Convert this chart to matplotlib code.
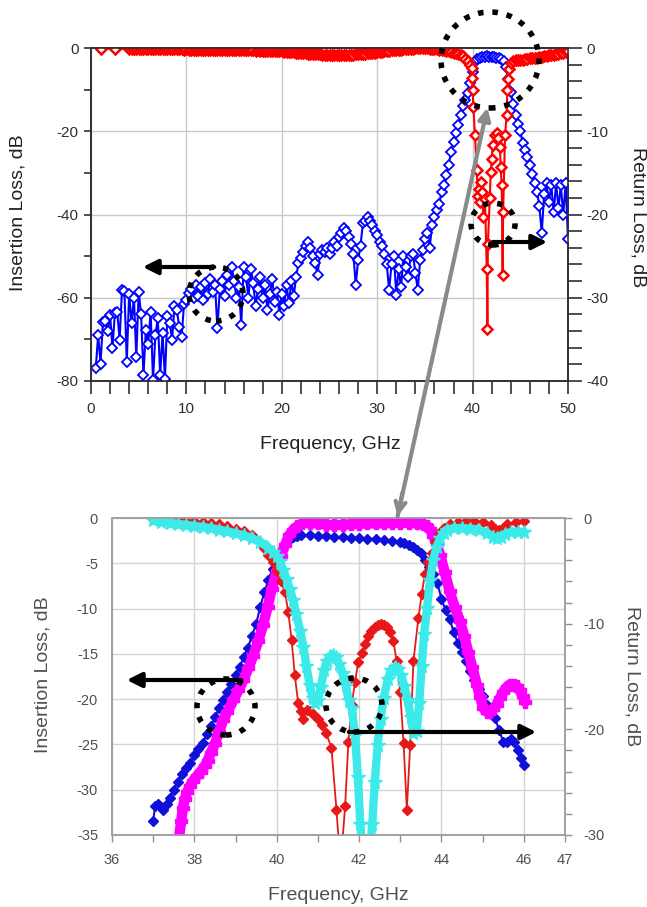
import matplotlib
matplotlib.use("Agg")
import matplotlib.pyplot as plt
from matplotlib.patches import Ellipse, FancyArrowPatch
from matplotlib.ticker import MultipleLocator

plt.rcParams['font.family'] = ['Liberation Sans', 'DejaVu Sans']
plt.rcParams['axes.unicode_minus'] = False

W, H = 647, 907

# ---- top chart: full sweep 0-50 GHz ----
top_freq = [
    0.5, 0.75, 1.0, 1.25, 1.5, 1.75, 2.0, 2.25, 2.5, 2.75, 3.0, 3.25, 3.5, 3.75, 4.0, 4.25,
    4.5, 4.75, 5.0, 5.25, 5.5, 5.75, 6.0, 6.25, 6.5, 6.75, 7.0, 7.25, 7.5, 7.75, 8.0, 8.25,
    8.5, 8.75, 9.0, 9.25, 9.5, 9.75, 10.0, 10.25, 10.5, 10.75, 11.0, 11.25, 11.5, 11.75,
    12.0, 12.25, 12.5, 12.75, 13.0, 13.25, 13.5, 13.75, 14.0, 14.25, 14.5, 14.75, 15.0,
    15.25, 15.5, 15.75, 16.0, 16.25, 16.5, 16.75, 17.0, 17.25, 17.5, 17.75, 18.0, 18.25,
    18.5, 18.75, 19.0, 19.25, 19.5, 19.75, 20.0, 20.25, 20.5, 20.75, 21.0, 21.25, 21.5,
    21.75, 22.0, 22.25, 22.5, 22.75, 23.0, 23.25, 23.5, 23.75, 24.0, 24.25, 24.5, 24.75,
    25.0, 25.25, 25.5, 25.75, 26.0, 26.25, 26.5, 26.75, 27.0, 27.25, 27.5, 27.75, 28.0,
    28.25, 28.5, 28.75, 29.0, 29.25, 29.5, 29.75, 30.0, 30.25, 30.5, 30.75, 31.0, 31.25,
    31.5, 31.75, 32.0, 32.25, 32.5, 32.75, 33.0, 33.25, 33.5, 33.75, 34.0, 34.25, 34.5,
    34.75, 35.0, 35.25, 35.5, 35.75, 36.0, 36.25, 36.5, 36.75, 37.0, 37.25, 37.5, 37.75,
    38.0, 38.25, 38.5, 38.75, 39.0, 39.25, 39.5, 39.75, 40.0, 40.25, 40.5, 40.75, 41.0,
    41.25, 41.5, 41.75, 42.0, 42.25, 42.5, 42.75, 43.0, 43.25, 43.5, 43.75, 44.0, 44.25,
    44.5, 44.75, 45.0, 45.25, 45.5, 45.75, 46.0, 46.25, 46.5, 46.75, 47.0, 47.25, 47.5,
    47.75, 48.0, 48.25, 48.5, 48.75, 49.0, 49.25, 49.5, 49.75, 50.0]
top_il = [
    -76.9, -69.0, -75.8, -65.8, -65.6, -68.0, -64.1, -72.1, -63.7, -63.4, -70.1, -58.1,
    -58.4, -75.4, -59.0, -66.0, -60.0, -74.2, -58.5, -64.0, -78.6, -67.7, -71.0, -63.4,
    -79.8, -69.0, -64.9, -78.6, -68.5, -79.4, -64.5, -66.0, -70.1, -62.0, -63.0, -67.0,
    -69.5, -61.5, -60.5, -58.9, -58.0, -60.0, -57.0, -59.5, -57.5, -60.5, -56.5, -59.0,
    -55.5, -58.5, -57.0, -67.3, -58.0, -56.0, -59.5, -54.5, -57.0, -52.5, -56.0, -60.0,
    -57.5, -66.5, -52.5, -55.0, -60.0, -53.0, -56.5, -62.0, -58.0, -55.0, -60.0, -57.0,
    -63.0, -59.0, -55.5, -61.0, -58.5, -64.1, -59.0, -62.0, -57.0, -61.3, -56.0, -59.6,
    -55.0, -51.7, -50.5, -49.0, -47.5, -46.5, -48.0, -50.0, -51.7, -54.5, -49.5, -48.5,
    -49.0, -48.0, -49.5, -48.0, -46.5, -47.5, -45.5, -44.5, -43.3, -44.0, -45.5, -47.0,
    -49.5, -56.9, -51.0, -47.5, -42.1, -41.5, -40.5, -41.5, -42.5, -44.0, -45.0, -46.5,
    -47.5, -49.5, -52.0, -58.1, -52.0, -50.0, -59.3, -53.0, -57.5, -50.0, -52.5, -55.0,
    -50.0, -49.5, -54.0, -58.1, -51.0, -48.5, -46.0, -44.5, -48.1, -42.5, -40.5, -39.0,
    -37.5, -34.5, -33.0, -30.5, -28.0, -25.0, -22.5, -20.5, -18.5, -16.0, -14.0, -12.5,
    -10.8, -8.5, -5.8, -3.3, -2.6, -2.3, -2.1, -2.1, -2.0, -2.1, -2.1, -2.2, -2.3, -2.5,
    -2.7, -3.2, -4.5, -7.5, -10.5, -13.5, -16.0, -18.3, -20.0, -22.8, -24.5, -26.3, -28.0,
    -30.2, -32.5, -34.5, -38.0, -44.5, -35.0, -32.5, -37.0, -33.0, -39.5, -32.5, -38.5,
    -33.0, -40.0, -32.5, -46.0]

top_rl_freq = [
    1.0, 2.5,
    4.0, 4.25, 4.5, 4.75, 5.0, 5.25, 5.5, 5.75, 6.0, 6.25, 6.5, 6.75, 7.0, 7.25, 7.5, 7.75,
    8.0, 8.25, 8.5, 8.75, 9.0, 9.25, 9.5, 9.75, 10.0, 10.25, 10.5, 10.75, 11.0, 11.25, 11.5,
    11.75, 12.0, 12.25, 12.5, 12.75, 13.0, 13.25, 13.5, 13.75, 14.0, 14.25, 14.5, 14.75,
    15.0, 15.25, 15.5, 15.75, 16.0, 16.25, 16.5, 16.75, 17.0, 17.25, 17.5, 17.75, 18.0,
    18.25, 18.5, 18.75, 19.0, 19.25, 19.5, 19.75, 20.0, 20.25, 20.5, 20.75, 21.0, 21.25,
    21.5, 21.75, 22.0, 22.25, 22.5, 22.75, 23.0, 23.25, 23.5, 23.75, 24.0, 24.25, 24.5,
    24.75, 25.0, 25.25, 25.5, 25.75, 26.0, 26.25, 26.5, 26.75, 27.0, 27.25, 27.5, 27.75,
    28.0, 28.25, 28.5, 28.75, 29.0, 29.25, 29.5, 29.75, 30.0, 30.25, 30.5, 30.75, 31.0,
    31.25, 31.5, 31.75, 32.0, 32.25, 32.5, 32.75, 33.0, 33.25, 33.5, 33.75, 34.0, 34.25,
    34.5, 34.75, 35.0, 35.25, 35.5, 35.75, 36.0, 36.25, 36.5, 36.75, 37.0, 37.25, 37.5,
    37.75, 38.0, 38.25, 38.5, 38.75, 39.0,
    39.25, 39.5, 39.75, 39.9, 39.95, 40.0, 40.08, 40.25, 40.43, 40.55, 40.7, 40.78, 40.85,
    40.95, 41.13, 41.3, 41.48, 41.55, 41.6, 41.8, 41.9, 42.0, 42.1, 42.35, 42.52, 42.7,
    42.87, 42.94, 43.05, 43.15, 43.2, 43.4, 43.57, 43.64, 43.75, 43.85, 44.0, 44.2,
    44.5, 44.75, 45.0, 45.25, 45.5, 45.75, 46.0, 46.25, 46.5, 46.75, 47.0, 47.25, 47.5,
    47.75, 48.0, 48.25, 48.5, 48.75, 49.0, 49.25, 49.5, 49.75, 50.0]
top_rl = [
    -0.1, -0.1,
    -0.10, -0.08, -0.12, -0.10, -0.10, -0.12, -0.10, -0.12, -0.14, -0.10, -0.12, -0.14,
    -0.12, -0.15, -0.14, -0.12, -0.16, -0.14, -0.15, -0.17, -0.15, -0.18, -0.16, -0.19,
    -0.18, -0.20, -0.19, -0.22, -0.20, -0.22, -0.21, -0.24, -0.22, -0.25, -0.24, -0.26,
    -0.25, -0.27, -0.26, -0.24, -0.25, -0.23, -0.24, -0.21, -0.22, -0.24, -0.22, -0.25,
    -0.25, -0.28, -0.27, -0.30, -0.30, -0.31, -0.30, -0.33, -0.32, -0.35, -0.34, -0.37,
    -0.36, -0.39, -0.40, -0.41, -0.42, -0.45, -0.46, -0.49, -0.50, -0.53, -0.55, -0.58,
    -0.60, -0.63, -0.65, -0.68, -0.70, -0.71, -0.72, -0.75, -0.76, -0.79, -0.80, -0.83,
    -0.82, -0.86, -0.85, -0.87, -0.85, -0.86, -0.84, -0.85, -0.82, -0.82, -0.80, -0.78,
    -0.75, -0.73, -0.70, -0.68, -0.65, -0.62, -0.60, -0.56, -0.52, -0.49, -0.45, -0.41,
    -0.38, -0.34, -0.30, -0.28, -0.25, -0.22, -0.20, -0.17, -0.15, -0.12, -0.10, -0.08,
    -0.06, -0.05, -0.05, -0.04, -0.05, -0.06, -0.08, -0.10, -0.12, -0.16, -0.20, -0.25,
    -0.30, -0.36, -0.42, -0.48, -0.55, -0.65, -0.75, -0.87, -1.0,
    -1.3, -1.6, -2.0, -2.4, -3.6, -5.0, -7.1, -10.45, -14.65, -17.8, -16.9, -18.5, -16.1,
    -17.3, -20.3, -18.1, -26.5, -33.7, -23.5, -18.06, -14.9, -13.3, -11.7, -10.5, -10.25,
    -10.8, -11.9, -14.3, -16.5, -27.3, -19.7, -10.5, -8.1, -5.1, -3.7, -2.5, -1.8, -1.6,
    -1.5, -1.5, -1.4, -1.4, -1.3, -1.3, -1.25, -1.22, -1.2, -1.15, -1.1, -1.05, -1.0,
    -0.95, -0.9, -0.85, -0.8, -0.75, -0.7, -0.62, -0.55, -0.48, -0.4]

# ---- bottom chart: 36-47 GHz detail, measured vs simulated ----
meas_il_freq = [
    37.0, 37.05, 37.12, 37.18, 37.25, 37.33, 37.4, 37.5, 37.6, 37.7, 37.8, 37.9, 38.0, 38.1,
    38.2, 38.3, 38.4, 38.5, 38.6, 38.7, 38.8, 38.9, 39.0, 39.1, 39.2, 39.3, 39.4, 39.5, 39.6,
    39.7, 39.8, 39.9, 40.0, 40.1, 40.2, 40.3, 40.4, 40.5, 40.6, 40.8, 41.0, 41.2, 41.4, 41.6,
    41.8, 42.0, 42.2, 42.4, 42.6, 42.8, 43.0, 43.1, 43.2, 43.3, 43.4, 43.5, 43.6, 43.7, 43.8,
    43.9, 44.0, 44.1, 44.2, 44.3, 44.4, 44.5, 44.6, 44.7, 44.8, 44.9, 45.0, 45.1, 45.2, 45.3,
    45.4, 45.5, 45.6, 45.7, 45.75, 45.85, 45.93, 46.0]
meas_il = [
    -33.4, -31.8, -31.6, -31.9, -32.2, -31.6, -30.9, -30.0, -29.1, -28.3, -27.6, -27.0,
    -26.2, -25.5, -24.8, -23.9, -23.0, -22.0, -21.0, -20.1, -19.2, -18.3, -17.3, -16.4,
    -15.4, -14.3, -13.0, -11.7, -9.8, -8.2, -6.8, -5.6, -4.6, -3.6, -2.9, -2.4, -2.1, -2.0,
    -1.9, -1.9, -2.0, -2.0, -2.1, -2.1, -2.2, -2.2, -2.3, -2.3, -2.4, -2.5, -2.6, -2.8, -3.0,
    -3.2, -3.5, -3.9, -4.6, -5.4, -6.2, -7.2, -8.9, -10.2, -11.2, -12.6, -13.8, -14.8,
    -15.8, -16.9, -17.9, -18.9, -19.7, -20.6, -21.3, -22.1, -23.4, -24.7, -24.7, -24.4,
    -24.7, -25.6, -26.5, -27.3]

meas_rl_freq = [
    37.0, 37.2, 37.4, 37.6, 37.8, 38.0, 38.2, 38.4, 38.6, 38.8, 39.0, 39.2, 39.4, 39.6, 39.7,
    39.8, 39.9, 40.0, 40.1, 40.2, 40.28, 40.36, 40.44, 40.52, 40.6, 40.65, 40.73, 40.8, 40.9,
    41.0, 41.1, 41.2, 41.33, 41.45, 41.55, 41.66, 41.74, 41.82, 41.9, 41.98, 42.07, 42.15,
    42.22, 42.3, 42.38, 42.45, 42.53, 42.6, 42.68, 42.75, 42.83, 42.91, 43.0, 43.08, 43.16,
    43.24, 43.32, 43.44, 43.52, 43.6, 43.68, 43.76, 43.85, 43.95, 44.05, 44.2, 44.4, 44.6,
    44.8, 45.0, 45.2, 45.3, 45.4, 45.5, 45.6, 45.8, 46.0]
meas_rl = [
    -0.1, -0.1, -0.2, -0.2, -0.3, -0.3, -0.4, -0.5, -0.6, -0.8, -1.0, -1.2, -1.6, -2.3, -2.8,
    -3.5, -4.2, -5.0, -6.0, -7.0, -8.9, -11.5, -14.9, -17.5, -18.3, -19.0, -18.2, -18.3,
    -18.6, -19.0, -19.6, -20.3, -21.8, -27.6, -33.0, -27.3, -21.2, -17.7, -15.5, -13.6,
    -12.8, -11.9, -11.2, -10.7, -10.3, -10.1, -10.0, -10.1, -10.3, -10.8, -11.6, -13.5,
    -16.5, -21.3, -27.6, -21.5, -13.5, -9.5, -7.2, -5.3, -4.2, -3.3, -2.3, -1.4, -0.9, -0.6,
    -0.4, -0.3, -0.3, -0.4, -0.7, -1.0, -1.1, -0.9, -0.6, -0.4, -0.3]

sim_il_freq = [
    37.62, 37.68, 37.72, 37.77, 37.83, 37.89, 37.97, 38.06, 38.15, 38.25, 38.32, 38.4, 38.5,
    38.6, 38.7, 38.8, 38.95, 39.07, 39.19, 39.31, 39.43, 39.55, 39.67, 39.78, 39.88, 40.0,
    40.1, 40.2, 40.3, 40.4, 40.5, 40.62, 40.8, 41.0, 41.2, 41.4, 41.6, 41.8, 42.0, 42.2,
    42.4, 42.6, 42.8, 43.0, 43.2, 43.4, 43.55, 43.65, 43.72, 43.8, 43.88, 43.97, 44.08, 44.2,
    44.32, 44.45, 44.55, 44.65, 44.75, 44.86, 44.94, 45.02, 45.1, 45.18, 45.26, 45.34, 45.42,
    45.5, 45.58, 45.66, 45.75, 45.83, 45.9, 45.97, 46.03]
sim_il = [
    -35.5, -33.5, -32.0, -31.0, -30.2, -29.6, -29.0, -28.5, -28.0, -27.4, -26.8, -25.9, -24.9,
    -23.6, -22.3, -21.4, -20.1, -19.0, -17.9, -16.6, -15.2, -13.6, -11.8, -9.8, -7.8, -5.9,
    -4.2, -3.0, -1.9, -1.3, -0.9, -0.6, -0.55, -0.6, -0.75, -0.8, -0.75, -0.7, -0.65, -0.6,
    -0.6, -0.58, -0.55, -0.55, -0.55, -0.6, -0.7, -0.9, -1.2, -2.0, -2.9, -4.1, -6.0, -8.1,
    -9.8, -11.4, -13.0, -14.8, -16.5, -18.4, -19.8, -21.0, -21.4, -21.4, -21.1, -20.6,
    -19.9, -19.2, -18.7, -18.4, -18.4, -18.6, -19.0, -19.7, -20.3]

sim_rl_freq = [
    37.0, 37.2, 37.4, 37.6, 37.8, 38.0, 38.2, 38.4, 38.6, 38.8, 39.0, 39.2, 39.4, 39.6, 39.8,
    39.9, 40.0, 40.08, 40.16, 40.24, 40.32, 40.4, 40.48, 40.57, 40.65, 40.72, 40.8, 40.87,
    40.94, 41.0, 41.07, 41.15, 41.22, 41.3, 41.37, 41.45, 41.52, 41.6, 41.67, 41.75, 41.82,
    41.9, 41.97, 42.03, 42.1, 42.17, 42.25, 42.32, 42.38, 42.45, 42.52, 42.6, 42.7, 42.78,
    42.86, 42.94, 43.02, 43.1, 43.18, 43.25, 43.32, 43.4, 43.46, 43.52, 43.58, 43.65, 43.72,
    43.8, 43.88, 43.97, 44.05, 44.13, 44.3, 44.5, 44.7, 44.9, 45.1, 45.25, 45.35, 45.45,
    45.55, 45.7, 45.85, 46.0]
sim_rl = [
    -0.2, -0.35, -0.45, -0.55, -0.65, -0.75, -0.85, -0.95, -1.1, -1.25, -1.45, -1.65, -1.9,
    -2.3, -2.8, -3.2, -3.6, -4.1, -4.9, -5.8, -6.7, -7.8, -9.1, -10.7, -12.2, -14.0, -15.8,
    -17.0, -17.5, -17.2, -16.0, -14.4, -13.5, -13.1, -13.0, -13.2, -13.8, -14.7, -15.8,
    -17.2, -18.0, -20.5, -24.5, -29.0, -32.0, -33.0, -32.0, -29.0, -25.0, -21.5, -19.0,
    -17.0, -15.2, -14.4, -14.1, -14.3, -14.9, -15.9, -17.2, -18.8, -20.3, -20.2, -17.5,
    -14.0, -11.0, -8.5, -5.9, -4.0, -2.7, -1.9, -1.4, -1.1, -0.95, -0.95, -1.0, -1.1, -1.4,
    -1.8, -1.9, -1.8, -1.5, -1.3, -1.3, -1.3]


def px(x, y):
    return (x / W, 1 - y / H)


fig = plt.figure(figsize=(W / 100, H / 100), dpi=100)

# ---------------- top chart ----------------
ax = fig.add_axes([91 / W, 1 - 381 / H, 477 / W, 333 / H])
ax.plot(top_freq, top_il, color='#0000ff', lw=1.5, marker='D', ms=5,
        mfc='white', mec='#0000ff', mew=1.3, zorder=3)
ax.set_xlim(0, 50)
ax.set_ylim(-80, 0)
ax.set_xticks(range(0, 51, 10))
ax.xaxis.set_minor_locator(MultipleLocator(2))
ax.set_yticks([0, -20, -40, -60, -80])
ax.yaxis.set_minor_locator(MultipleLocator(10))
ax.grid(True, color='#c8c8c8', lw=1)
ax.tick_params(axis='x', which='both', direction='out', length=9, width=1.2,
               color='#303030', labelsize=11, labelcolor='#303030', pad=6)
ax.tick_params(axis='y', which='both', direction='out', length=5, width=1.2,
               color='#303030', pad=4, labelsize=11, labelcolor='#303030')

ax2 = ax.twinx()
ax2.plot(top_rl_freq, top_rl, color='#ff0000', lw=1.5, marker='D', ms=5.5,
         mfc='white', mec='#ff0000', mew=1.8)
ax2.set_ylim(-40, 0)
ax2.set_yticks([0, -10, -20, -30, -40])
ax2.yaxis.set_minor_locator(MultipleLocator(2))
ax2.tick_params(axis='y', which='both', direction='out', length=10, width=1.2,
                color='#303030', labelsize=11, labelcolor='#303030', pad=3)
for a in (ax, ax2):
    for s in a.spines.values():
        s.set_color('#303030')
        s.set_linewidth(1.2)

fig.text(*px(18, 213), 'Insertion Loss, dB', rotation=90, ha='center', va='center',
         fontsize=14, color='#202020')
fig.text(*px(638, 217), 'Return Loss, dB', rotation=270, ha='center', va='center',
         fontsize=14, color='#202020')
fig.text(*px(330, 445), 'Frequency, GHz', ha='center', va='center', fontsize=14,
         color='#202020')

# ---------------- bottom chart ----------------
bx = fig.add_axes([112 / W, 1 - 835 / H, 453 / W, 317 / H])
bx.plot(meas_il_freq, meas_il, color='#1010d8', lw=1.5, marker='D', ms=5, zorder=3)
bx.plot(sim_il_freq, sim_il, color='#ff00ff', lw=7.5, marker='P', ms=8,
        solid_capstyle='round', zorder=4)
bx.set_xlim(36, 47)
bx.set_ylim(-35, 0)
bx.set_xticks([36, 38, 40, 42, 44, 46, 47])
bx.set_xticks([37, 39, 41, 43, 45], minor=True)
bx.set_yticks([0, -5, -10, -15, -20, -25, -30, -35])
bx.grid(True, color='#d4d4d4', lw=1)
bx.tick_params(axis='x', which='both', direction='out', length=5, width=1,
               color='#909090', labelsize=10.5, labelcolor='#505050', pad=8)
bx.tick_params(axis='y', length=0, pad=10, labelsize=10.5, labelcolor='#505050')

bx2 = bx.twinx()
bx2.plot(meas_rl_freq, meas_rl, color='#e81818', lw=1.3, marker='D', ms=5)
bx2.plot(sim_rl_freq, sim_rl, color='#3ceaea', lw=6, marker='*', ms=10,
         solid_capstyle='round')
bx2.set_ylim(-30, 0)
bx2.set_yticks([0, -10, -20, -30])
bx2.yaxis.set_minor_locator(MultipleLocator(2))
bx2.tick_params(axis='y', which='both', direction='out', length=5, width=1,
                color='#909090', labelsize=10.5, labelcolor='#505050', pad=8)
for a in (bx, bx2):
    for s in a.spines.values():
        s.set_color('#a0a0a0')
        s.set_linewidth(1.2)

fig.text(*px(43, 675), 'Insertion Loss, dB', rotation=90, ha='center', va='center',
         fontsize=14, color='#505050')
fig.text(*px(632, 676), 'Return Loss, dB', rotation=270, ha='center', va='center',
         fontsize=14, color='#505050')
fig.text(*px(338, 895), 'Frequency, GHz', ha='center', va='center', fontsize=14,
         color='#505050')

# ---------------- annotations ----------------
for cx, cy, rx, ry in [(490, 60, 49, 48), (216, 294, 27, 27), (493, 224, 22, 21),
                       (226, 707, 29, 28), (354, 705, 28, 27)]:
    fig.add_artist(Ellipse(px(cx, cy), 2 * rx / W, 2 * ry / H, fill=False,
                           ec='black', lw=4, ls=(0, (1, 1.6)),
                           transform=fig.transFigure, zorder=10))

for (x0, y0), (x1, y1) in [((217, 267), (140, 267)), ((490, 242), (550, 242)),
                           ((244, 680), (124, 680)), ((346, 732), (539, 732))]:
    fig.add_artist(FancyArrowPatch(px(x0, y0), px(x1, y1), arrowstyle='-|>',
                                   mutation_scale=22, lw=3, color='black',
                                   transform=fig.transFigure, zorder=11))

fig.add_artist(FancyArrowPatch(px(397, 519), px(488, 105), arrowstyle='-|>',
                               mutation_scale=18, lw=3, color='#8a8a8a',
                               transform=fig.transFigure, zorder=12))
fig.add_artist(FancyArrowPatch(px(403, 490), px(397, 519), arrowstyle='->',
                               mutation_scale=18, lw=3, color='#8a8a8a',
                               transform=fig.transFigure, zorder=12))

fig.savefig('out.png', dpi=100)
